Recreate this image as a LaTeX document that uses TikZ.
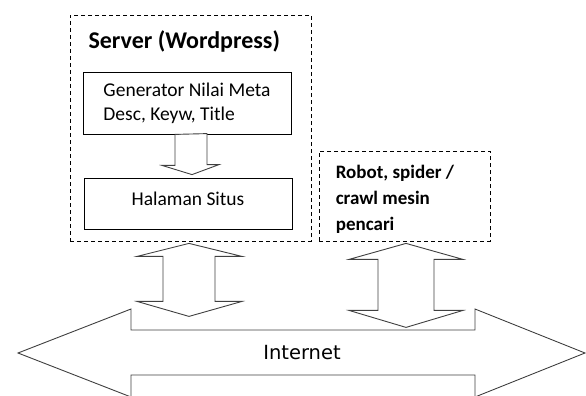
\documentclass[tikz,border=0pt]{standalone}
\usepackage{fontspec}
\setmainfont{Carlito}
\newfontfamily\inetfont{DejaVu Sans}
\tikzset{
  kotak/.style={draw, line width=0.8pt, minimum width=208pt, inner sep=0pt},
  kotakputus/.style={draw, dashed, dash pattern=on 4pt off 3pt, line width=0.8pt, inner sep=0pt},
  panah/.style={draw=black!75, line width=0.9pt, fill=white, line join=miter},
  isi/.style={font=\fontsize{19.5}{24}\selectfont},
}
\begin{document}
\begin{tikzpicture}[x=1pt, y=-1pt]
    \useasboundingbox (0,0) rectangle (586,396);

    % Server
    \node[kotakputus, minimum width=241pt, minimum height=226pt] (server) at (190.5,128) {};
    \node[anchor=west, font=\fontsize{24}{24}\selectfont\bfseries] (judul) at (85,41) {Server (Wordpress)};

    % generator dan halaman
    \node[kotak, minimum height=62pt, isi, align=left] (gen) at (187,103) {Generator Nilai Meta\\Desc, Keyw, Title};
    \node[kotak, minimum height=51pt] (halaman) at (188,203.5) {};
    \node[isi] (teksHalaman) at ([yshift=5pt]halaman.center) {Halaman Situs};

    % Robot
    \node[kotakputus, minimum width=171pt, minimum height=90pt] (robot) at (404.5,196) {};
    \node[anchor=west, align=left, inner sep=0pt, font=\fontsize{19}{26}\selectfont\bfseries] (teksRobot)
        at ([xshift=17pt,yshift=-3pt]robot.west) {Robot, spider /\\crawl mesin\\pencari};

    % panah generator -> halaman
    \draw[panah] ([xshift=-12pt]gen.south) -- ++(0,31) -- ++(-13,0) -- ([xshift=4pt,yshift=3pt]halaman.north)
        -- ++(27,-10) -- ++(-12,0) -- ++(0,-31) -- cycle;

    % Internet
    \draw[panah] (18,353) coordinate (kiri) -- ++(113,-44) -- ++(0,21) -- ++(344,0) -- ++(0,-21)
        -- (585,353) coordinate (kanan) -- ++(-110,44) -- ++(0,-22) -- ++(-344,0) -- ++(0,22) -- cycle;
    \node[font=\fontsize{19.5}{20}\selectfont\inetfont] (inet) at (302,353) {Internet};

    % panah server <-> internet
    \draw[panah] ([xshift=-1.5pt,yshift=-2pt]server.south) -- ++(-52,13) -- ++(26,0) -- ++(0,45) -- ++(-26,0)
        -- ++(52,15) -- ++(53,-15) -- ++(-27,0) -- ++(0,-45) -- ++(27,0) -- cycle;

    % panah robot <-> internet
    \draw[panah] ([xshift=1.5pt,yshift=-2pt]robot.south) -- ++(-57,16) -- ++(29,0) -- ++(0,51) -- ++(-29,0)
        -- ++(57,17) -- ++(57,-17) -- ++(-29,0) -- ++(0,-51) -- ++(29,0) -- cycle;

\end{tikzpicture}
\end{document}
